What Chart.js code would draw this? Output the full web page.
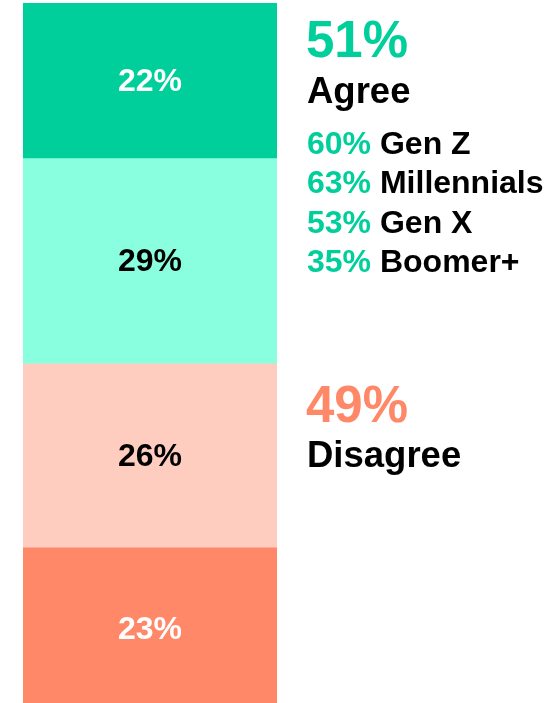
<!DOCTYPE html>
<html>
<head>
<meta charset="utf-8">
<script src="https://cdn.jsdelivr.net/npm/chart.js@4/dist/chart.umd.min.js"></script>
<style>
  html, body { margin: 0; padding: 0; background: #ffffff; overflow: hidden; }
  #wrap { width: 548px; height: 703px; }
</style>
</head>
<body>
<div id="wrap"><canvas id="chart" width="548" height="703"></canvas></div>
<script>
// Stacked segments, bottom to top
const segmentNames  = ['Disagree (strong)', 'Disagree (somewhat)', 'Agree (somewhat)', 'Agree (strong)'];
const segmentValues = [23, 26, 29, 22];
const segmentGroups = ['disagree', 'disagree', 'agree', 'agree'];
const segmentColors = ['#FF8869', '#FFCDC0', '#8AFFDF', '#00CF9B'];
const segmentText   = ['#FFFFFF', '#000000', '#000000', '#FFFFFF'];

// Agreement by generation
const generations   = ['Gen Z', 'Millennials', 'Gen X', 'Boomer+'];
const genAgree      = [60, 63, 53, 35];

const GREEN = '#00CF9B';
const CORAL = '#FF8869';
const FONT  = '"Liberation Sans", Arial, Helvetica, sans-serif';

const sum = arr => arr.reduce((a, b) => a + b, 0);
const agreeTotal    = sum(segmentValues.filter((v, i) => segmentGroups[i] === 'agree'));
const disagreeTotal = sum(segmentValues.filter((v, i) => segmentGroups[i] === 'disagree'));

// Percent labels centred on each segment
const segmentLabelPlugin = {
  id: 'segmentLabels',
  afterDatasetsDraw(chart) {
    const ctx = chart.ctx;
    const y = chart.scales.y;
    ctx.save();
    ctx.font = 'bold 32px ' + FONT;
    ctx.textAlign = 'center';
    ctx.textBaseline = 'middle';
    chart.data.datasets.forEach((ds, i) => {
      const meta = chart.getDatasetMeta(i);
      meta.data.forEach((bar, j) => {
        const v = ds.data[j];
        const yTop = y.getPixelForValue(sum(segmentValues.slice(0, i + 1)));
        const yBot = y.getPixelForValue(sum(segmentValues.slice(0, i)));
        ctx.fillStyle = segmentText[i];
        ctx.fillText(v + '%', bar.x, (yTop + yBot) / 2 + 1);
      });
    });
    ctx.restore();
  }
};

// Summary text to the right of the bar
const summaryPlugin = {
  id: 'summary',
  afterDraw(chart) {
    const ctx = chart.ctx;
    const y = chart.scales.y;
    const x0 = chart.chartArea.right + 30;
    ctx.save();
    ctx.textAlign = 'left';
    ctx.textBaseline = 'alphabetic';

    // Agree block, anchored to the top of the stack
    const agreeTop = y.getPixelForValue(100);
    ctx.fillStyle = GREEN;
    ctx.font = 'bold 51px ' + FONT;
    ctx.fillText(agreeTotal + '%', x0 - 1, agreeTop + 53.7);
    ctx.fillStyle = '#000000';
    ctx.font = 'bold 36.5px ' + FONT;
    ctx.fillText('Agree', x0, agreeTop + 100.3);

    ctx.font = 'bold 32px ' + FONT;
    generations.forEach((g, k) => {
      const by = agreeTop + 151.3 + k * 39.1;
      const pct = genAgree[k] + '%';
      ctx.fillStyle = GREEN;
      ctx.fillText(pct, x0, by);
      const w = ctx.measureText(pct + ' ').width;
      ctx.fillStyle = '#000000';
      ctx.fillText(g, x0 + w, by);
    });

    // Disagree block, anchored to the agree/disagree boundary
    const split = y.getPixelForValue(disagreeTotal);
    ctx.fillStyle = CORAL;
    ctx.font = 'bold 51px ' + FONT;
    ctx.fillText(disagreeTotal + '%', x0 - 1, split + 58.6);
    ctx.fillStyle = '#000000';
    ctx.font = 'bold 36.5px ' + FONT;
    ctx.fillText('Disagree', x0, split + 103.3);
    ctx.restore();
  }
};

new Chart(document.getElementById('chart'), {
  type: 'bar',
  data: {
    labels: [''],
    datasets: segmentValues.map((v, i) => ({
      label: segmentNames[i],
      data: [v],
      backgroundColor: segmentColors[i],
      borderWidth: 0,
      barPercentage: 1,
      categoryPercentage: 1
    }))
  },
  options: {
    responsive: false,
    animation: false,
    layout: { padding: { left: 23, right: 271, top: 3, bottom: 0 } },
    plugins: { legend: { display: false }, tooltip: { enabled: false } },
    scales: {
      x: { stacked: true, display: false },
      y: { stacked: true, display: false, min: 1.06, max: 100 }
    }
  },
  plugins: [segmentLabelPlugin, summaryPlugin]
});
</script>
</body>
</html>
